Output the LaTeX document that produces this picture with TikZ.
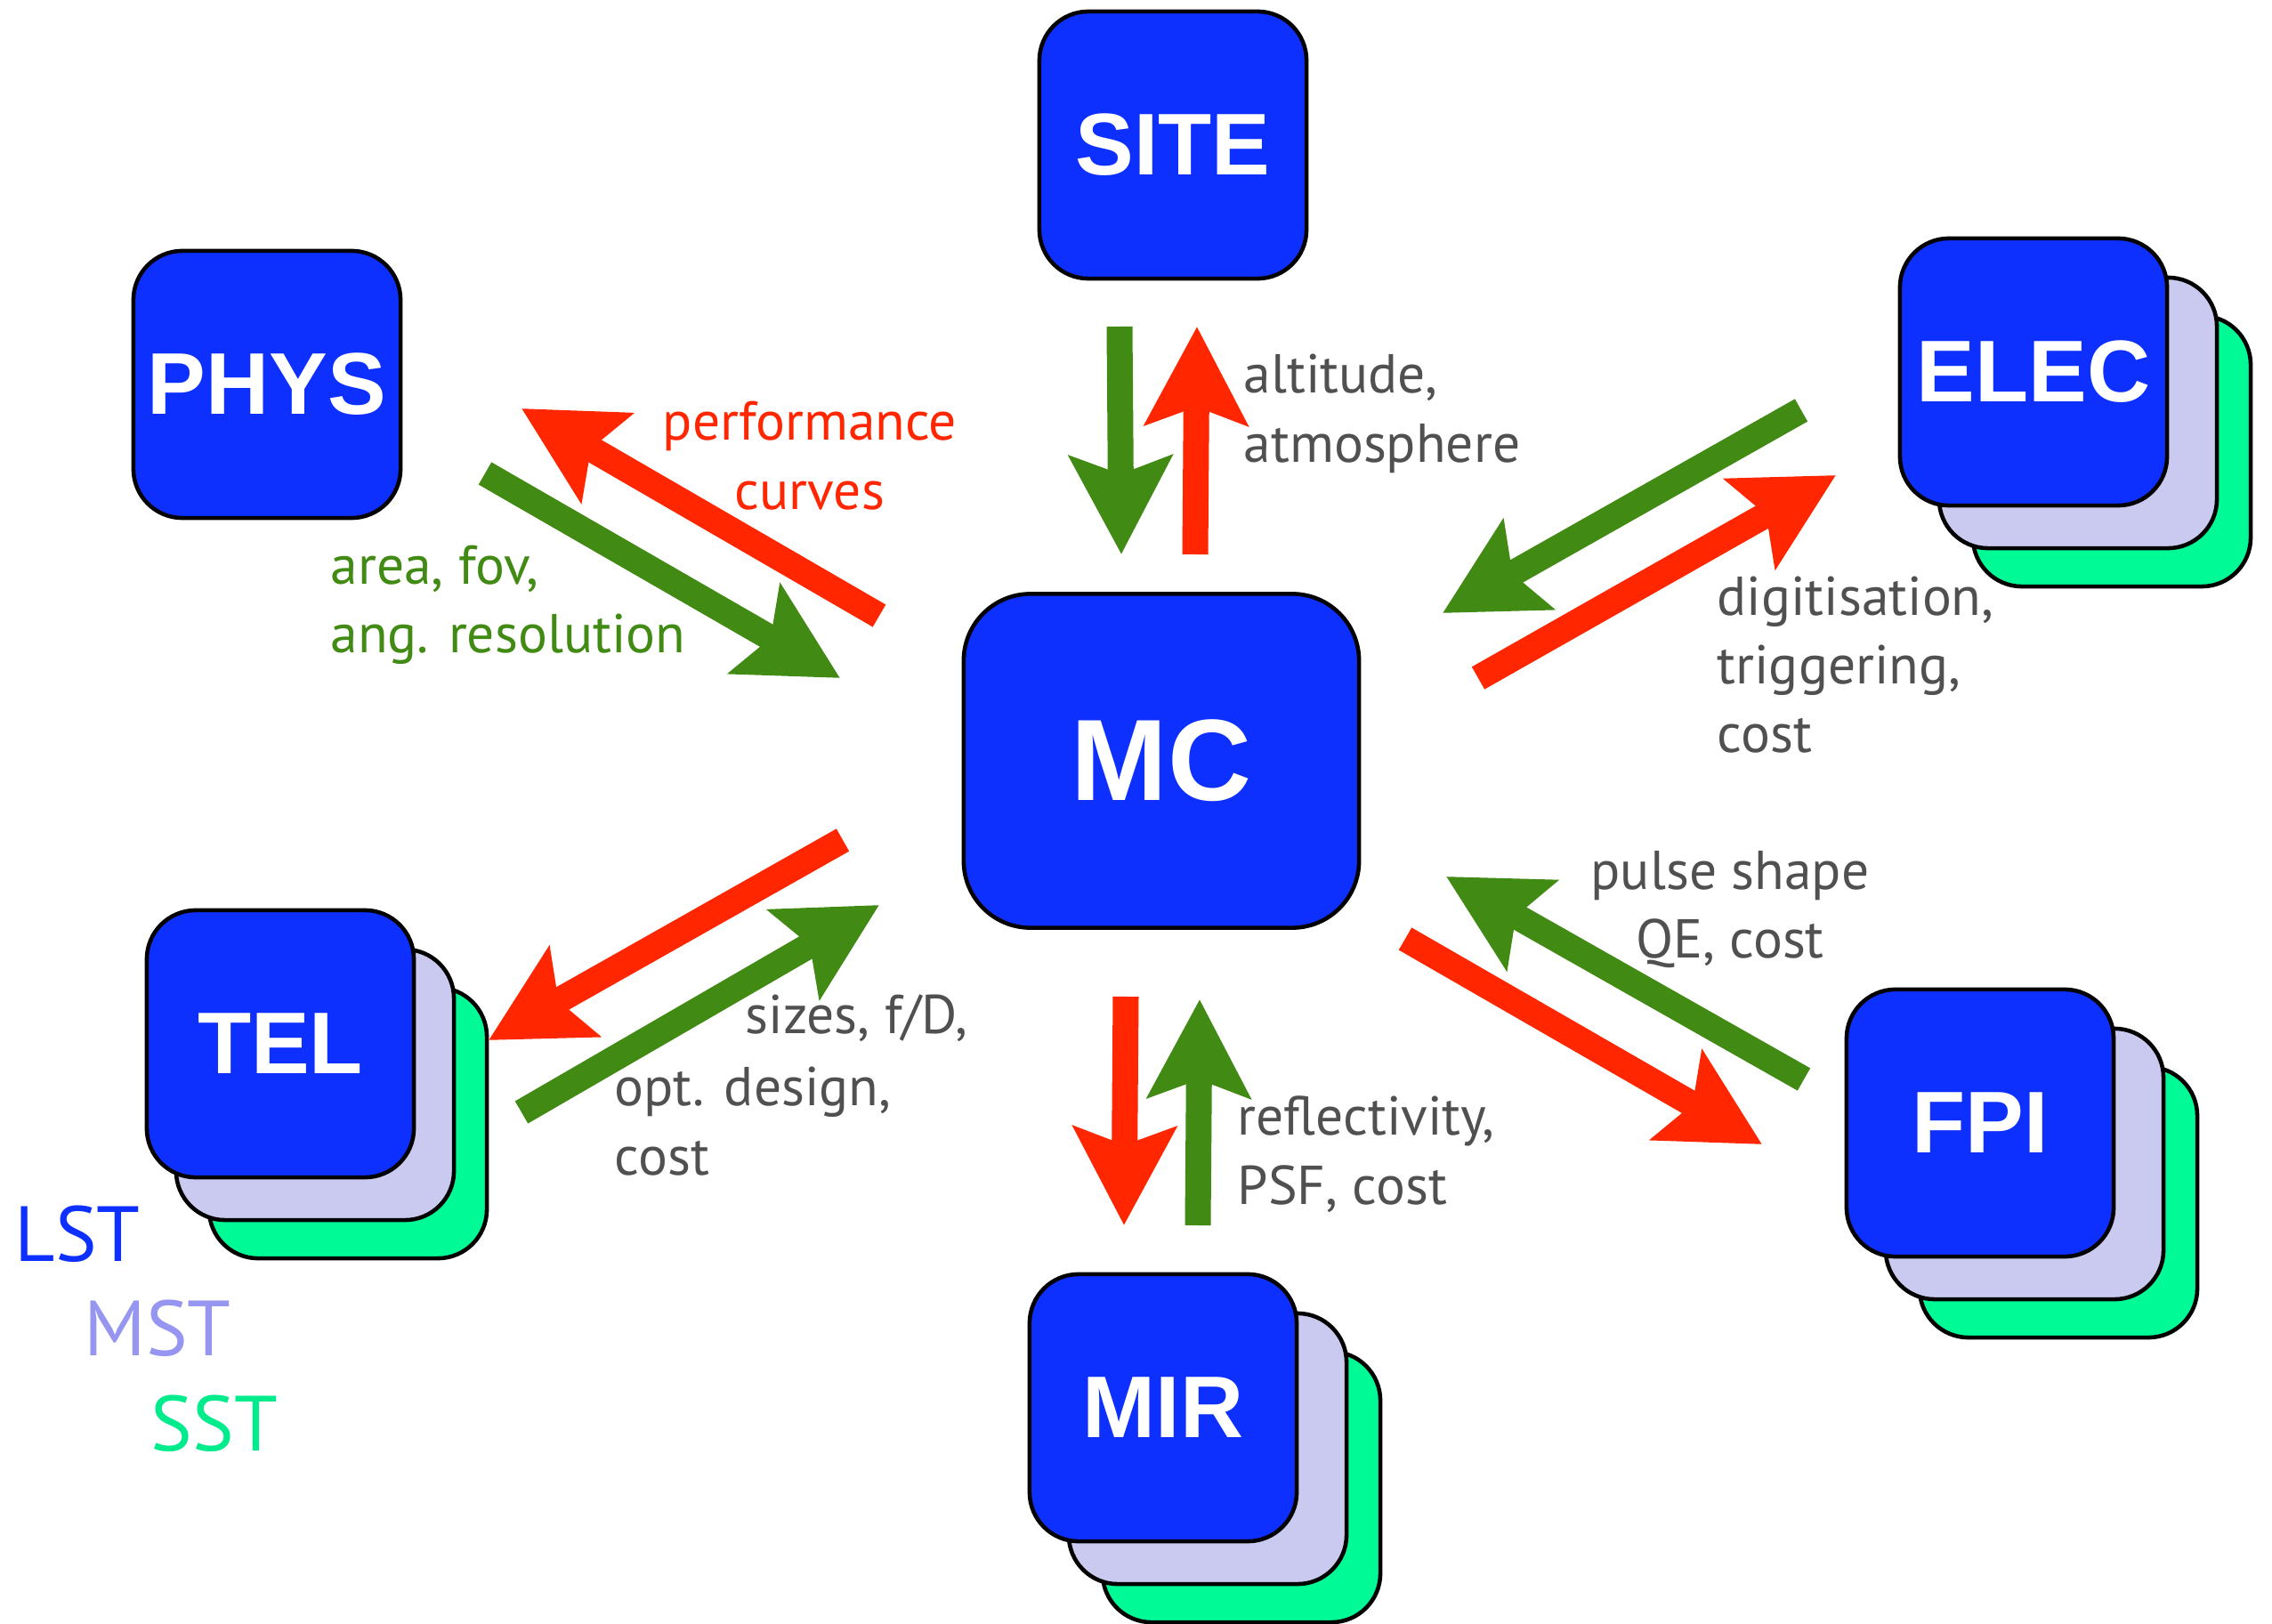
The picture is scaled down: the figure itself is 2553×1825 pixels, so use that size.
\documentclass[tikz,border=0pt]{standalone}
\usepackage{fontspec}
\setmainfont{PT Sans}
\newfontfamily\helv{Liberation Sans}
\usetikzlibrary{arrows.meta, positioning}

\definecolor{boxblue}{RGB}{13,48,255}
\definecolor{mstfill}{RGB}{202,202,240}
\definecolor{sstfill}{RGB}{0,250,150}
\definecolor{flowred}{RGB}{255,38,0}
\definecolor{flowgreen}{RGB}{65,138,19}
\definecolor{txtgray}{RGB}{80,80,80}
\definecolor{mstlabel}{RGB}{150,150,240}
\definecolor{sstlabel}{RGB}{0,235,140}

\begin{document}
\begin{tikzpicture}[
    x=0.01cm, y=-0.01cm,
    card/.style={rectangle, draw, line width=1.3pt, fill=boxblue, rounded corners=0.55cm, minimum width=3cm, minimum height=3cm, text=white, font=\helv\bfseries\fontsize{28}{30}\selectfont},
    mstcard/.style={card, fill=mstfill, minimum width=3.12cm, minimum height=3.04cm},
    sstcard/.style={card, fill=sstfill, minimum width=3.12cm, minimum height=3.04cm},
    mcbox/.style={card, minimum width=4.44cm, minimum height=3.75cm, rounded corners=0.75cm, font=\helv\bfseries\fontsize{37}{40}\selectfont},
    note/.style={align=left, anchor=west, inner sep=0pt, text=txtgray, font=\fontsize{17.5}{22}\selectfont},
    tier/.style={anchor=west, inner sep=0pt, font=\fontsize{25}{30}\selectfont},
    flow/.style={line width=0.29cm, -{Stealth[length=1.1cm, width=1.14cm, inset=0.2cm]}},
    ask/.style={flow, draw=flowgreen},
    give/.style={flow, draw=flowred}
]
    \useasboundingbox (0,0) rectangle (2553,1825);

    % Central node
    \node [mcbox] (mc) at (1305,855) {MC};

    % Single nodes
    \node [card] (site) at (1318,163) {SITE};
    \node [card] (phys) at (300,432) {PHYS};

    % Stacked nodes (LST / MST / SST)
    \node [sstcard] (elec-sst) at (2373,507) {};
    \node [mstcard] (elec-mst) at (2335,464) {};
    \node [card] (elec) at (2285,418) {ELEC};

    \node [sstcard] (tel-sst) at (391,1262) {};
    \node [mstcard] (tel-mst) at (354,1219) {};
    \node [card] (tel) at (315,1173) {TEL};

    \node [sstcard] (mir-sst) at (1395,1671) {};
    \node [mstcard] (mir-mst) at (1357,1628) {};
    \node [card] (mir) at (1307,1582) {MIR};

    \node [sstcard] (fpi-sst) at (2313,1351) {};
    \node [mstcard] (fpi-mst) at (2275,1308) {};
    \node [card] (fpi) at (2225,1262) {FPI};

    % Arrow ends
    \coordinate (site-a) at (1258,367);
    \coordinate (site-b) at (1260,623);
    \coordinate (site-c) at (1343,623);
    \coordinate (site-d) at (1345,367);
    \coordinate (phys-a) at (988,692);
    \coordinate (phys-b) at (586,459);
    \coordinate (phys-c) at (545,532);
    \coordinate (phys-d) at (944,762);
    \coordinate (elec-a) at (2024,461);
    \coordinate (elec-b) at (1621,689);
    \coordinate (elec-c) at (1661,762);
    \coordinate (elec-d) at (2063,534);
    \coordinate (tel-a) at (947,944);
    \coordinate (tel-b) at (549,1169);
    \coordinate (tel-c) at (586,1250);
    \coordinate (tel-d) at (988,1017);
    \coordinate (mir-a) at (1265,1120);
    \coordinate (mir-b) at (1263,1377);
    \coordinate (mir-c) at (1346,1377);
    \coordinate (mir-d) at (1348,1123);
    \coordinate (fpi-a) at (2027,1213);
    \coordinate (fpi-b) at (1625,985);
    \coordinate (fpi-c) at (1579,1055);
    \coordinate (fpi-d) at (1980,1286);

    % Connecting arrows
    \path [ask] (site-a) -- (site-b);
    \path [give] (site-c) -- (site-d);
    \path [give] (phys-a) -- (phys-b);
    \path [ask] (phys-c) -- (phys-d);
    \path [ask] (elec-a) -- (elec-b);
    \path [give] (elec-c) -- (elec-d);
    \path [give] (tel-a) -- (tel-b);
    \path [ask] (tel-c) -- (tel-d);
    \path [give] (mir-a) -- (mir-b);
    \path [ask] (mir-c) -- (mir-d);
    \path [ask] (fpi-a) -- (fpi-b);
    \path [give] (fpi-c) -- (fpi-d);

    % Labels
    \node [note] (site-txt) at (1397,465) {altitude,\\atmosphere};
    \node [note, anchor=center, align=center, text=flowred] (perf-txt) at (910,512) {performance\\curves};
    \node [note, text=flowgreen] (phys-txt) at (371,680) {area, fov,\\ang. resolution};
    \node [note] (elec-txt) at (1929,747) {digitisation,\\triggering,\\cost};
    \node [note] (tel-txt1) at (837,1144) {sizes, f/D,};
    \node [note] (tel-txt2) at (690,1260) {opt. design,\\cost};
    \node [note] (mir-txt) at (1390,1297) {reflectivity,\\PSF, cost};
    \node [note, anchor=center, align=center] (fpi-txt) at (1944,1022) {pulse shape\\QE, cost};

    % Telescope sizes
    \node [tier, text=boxblue] (lst) at (16,1387) {LST};
    \node [tier, text=mstlabel] (mst) at (94,1493) {MST};
    \node [tier, text=sstlabel] (sst) at (169,1600) {SST};
\end{tikzpicture}
\end{document}
